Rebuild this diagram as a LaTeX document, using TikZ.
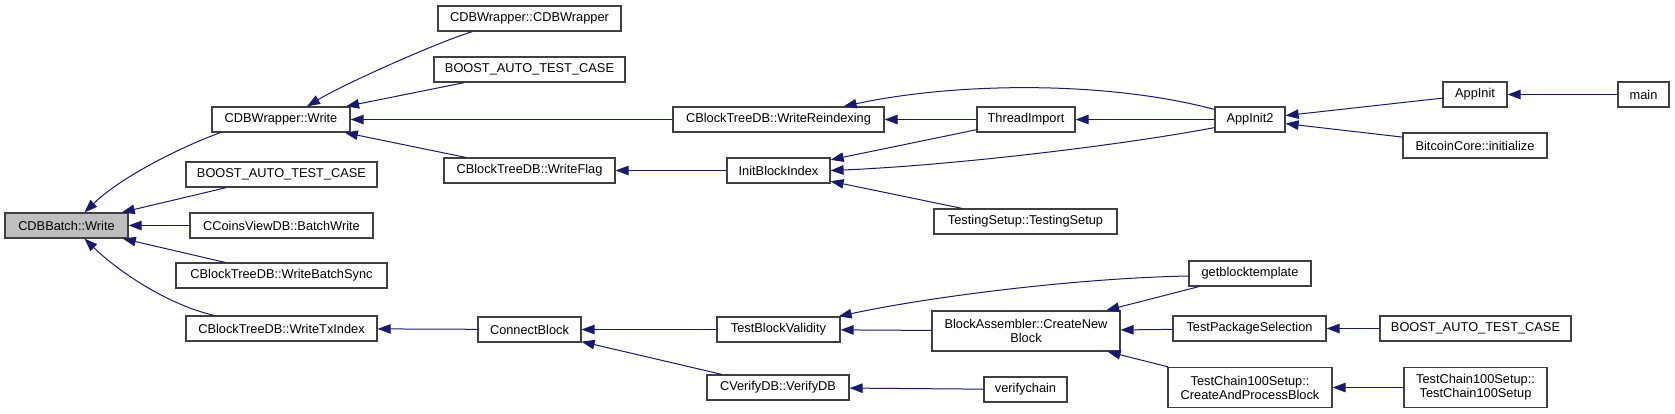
\documentclass[tikz,border=0pt]{standalone}
\usepackage{fontspec}
\setmainfont{Liberation Sans}
\usetikzlibrary{arrows.meta,calc,positioning}
\definecolor{EdgeBlue}{HTML}{191970}
\definecolor{BoxInk}{HTML}{404040}
\definecolor{RootGray}{HTML}{BFBFBF}
\tikzset{
  >={Triangle[length=13pt,width=9.5pt]},
  call/.style={->,line width=1pt,draw=EdgeBlue},
  fnbox/.style={draw=BoxInk,fill=white,line width=1.2pt,minimum height=25pt,
    inner sep=0pt,align=center,font=\fontsize{12.8}{14}\selectfont},
  rootbox/.style={fnbox,fill=RootGray},
  tallbox/.style={fnbox,minimum height=40pt}
}

\begin{document}
\begin{tikzpicture}[x=1pt,y=-1pt]
  \useasboundingbox (0,0) rectangle (1675,413);
  % functions, column by column
  \node[rootbox,minimum width=123pt] (batch) at (66.5,225.5) {CDBBatch::Write};
  \node[fnbox,minimum width=138pt] (wwrite) at (281,119.5) {CDBWrapper::Write};
  \node[fnbox,minimum width=191pt] (boosta) at (281.5,174.5) {BOOST\_AUTO\_TEST\_CASE};
  \node[fnbox,minimum width=183pt] (coins) at (281.5,225.5) {CCoinsViewDB::BatchWrite};
  \node[fnbox,minimum width=211pt] (bsync) at (281.5,275.5) {CBlockTreeDB::WriteBatchSync};
  \node[fnbox,minimum width=191pt] (txidx) at (281.5,328.5) {CBlockTreeDB::WriteTxIndex};
  \node[fnbox,minimum width=183pt] (wctor) at (529.5,18.5) {CDBWrapper::CDBWrapper};
  \node[fnbox,minimum width=191pt] (boostb) at (529.5,69.5) {BOOST\_AUTO\_TEST\_CASE};
  \node[fnbox,minimum width=171pt] (wflag) at (529.5,170.5) {CBlockTreeDB::WriteFlag};
  \node[fnbox,minimum width=103pt] (connb) at (529.5,329.5) {ConnectBlock};
  \node[fnbox,minimum width=211pt] (reidx) at (778.5,119.5) {CBlockTreeDB::WriteReindexing};
  \node[fnbox,minimum width=103pt] (initbi) at (778.5,170.5) {InitBlockIndex};
  \node[fnbox,minimum width=123pt] (tbv) at (778.5,329.5) {TestBlockValidity};
  \node[fnbox,minimum width=142pt] (vdb) at (778,387.5) {CVerifyDB::VerifyDB};
  \node[fnbox,minimum width=98pt] (thimp) at (1026,119.5) {ThreadImport};
  \node[fnbox,minimum width=183pt] (tsetup) at (1025.5,221.5) {TestingSetup::TestingSetup};
  \node[tallbox,minimum width=188pt] (cnb) at (1026,331) {BlockAssembler::CreateNew\\Block};
  \node[fnbox,minimum width=83pt] (vchain) at (1025.5,389.5) {verifychain};
  \node[fnbox,minimum width=70pt] (appinit2) at (1250,119.5) {AppInit2};
  \node[fnbox,minimum width=122pt] (gbt) at (1250,273.5) {getblocktemplate};
  \node[fnbox,minimum width=153pt] (tps) at (1249.5,328.5) {TestPackageSelection};
  \node[tallbox,minimum width=164pt] (capb) at (1250,387.5) {TestChain100Setup::\\CreateAndProcessBlock};
  \node[fnbox,minimum width=64pt] (appinit) at (1475,94.5) {AppInit};
  \node[fnbox,minimum width=144pt] (bcinit) at (1475,145.5) {BitcoinCore::initialize};
  \node[fnbox,minimum width=191pt] (boostc) at (1475.5,328.5) {BOOST\_AUTO\_TEST\_CASE};
  \node[tallbox,minimum width=143pt] (tc100) at (1475.5,387.5) {TestChain100Setup::\\TestChain100Setup};
  \node[fnbox,minimum width=51pt] (main) at (1643.5,94.5) {main};

  % callers point at callees
  \draw[call] ($(wwrite.south west)+(9,0)$) .. controls +(-41,15) and +(36,-35) .. ($(batch.north)+(18,0)$);
  \draw[call] (boosta) -- (batch);
  \draw[call] (coins) -- (batch);
  \draw[call] (bsync) -- (batch);
  \draw[call] ($(txidx.north west)+(29,0)$) .. controls +(-45,-10) and +(35,34) .. ($(batch.south)+(18,0)$);
  \draw[call] ($(wctor.south west)+(35,0)$) .. controls +(-33,10) and +(38,-23) .. ($(wwrite.north)+(26,0)$);
  \draw[call] (boostb) -- (wwrite);
  \draw[call] (reidx) -- (wwrite);
  \draw[call] (wflag) -- (wwrite);
  \draw[call] (thimp) -- (reidx);
  \draw[call] ($(appinit2.north west)+(0,3)$) .. controls +(-105,-28) and +(117,-25) .. ($(reidx.north east)+(-41,0)$);
  \draw[call] (initbi) -- (wflag);
  \draw[call] (thimp) -- (initbi);
  \draw[call] ($(appinit2.south west)+(0,-5)$) .. controls +(-95,18) and +(120,-5) .. (initbi.east);
  \draw[call] (tsetup) -- (initbi);
  \draw[call] (appinit2) -- (thimp);
  \draw[call] (appinit) -- (appinit2);
  \draw[call] (bcinit) -- (appinit2);
  \draw[call] (main) -- (appinit);
  \draw[call] (connb) -- (txidx);
  \draw[call] (tbv) -- (connb);
  \draw[call] (vdb) -- (connb);
  \draw[call] ($(gbt.west)+(0,2.5)$) .. controls +(-109,2) and +(92,-20) .. ($(tbv.north east)+(-2,0)$);
  \draw[call] (cnb) -- (tbv);
  \draw[call] (gbt) -- (cnb);
  \draw[call] (tps) -- (cnb);
  \draw[call] (capb) -- (cnb);
  \draw[call] (boostc) -- (tps);
  \draw[call] (tc100) -- (capb);
  \draw[call] (vchain) -- (vdb);
\end{tikzpicture}
\end{document}
